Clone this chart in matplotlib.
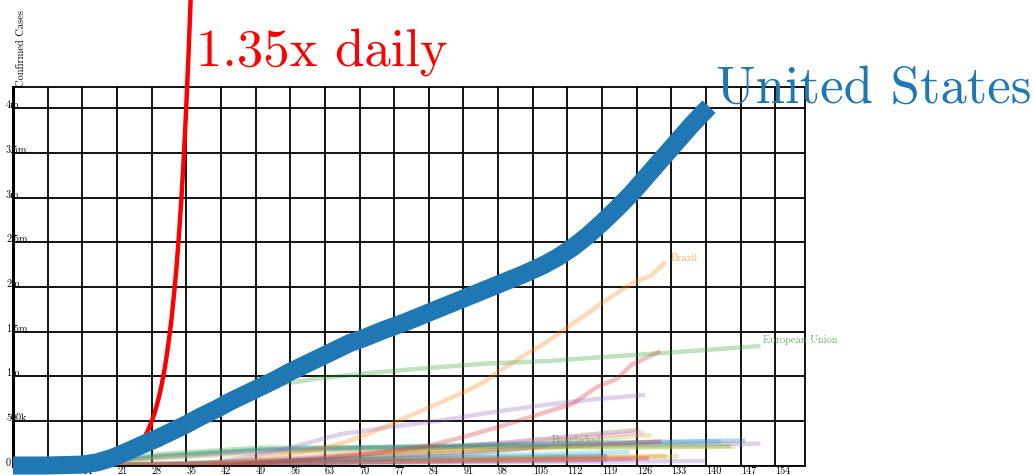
import matplotlib
matplotlib.use('Agg')
import matplotlib.pyplot as plt

plt.rcParams['font.family'] = ['cmr10', 'DejaVu Serif']
plt.rcParams['axes.unicode_minus'] = False
plt.rcParams['mathtext.fontset'] = 'cm'

# ---------------- data (cases in millions, x = days) ----------------
x_ticks = list(range(0, 155, 7))
y_ticks = [0, 0.5, 1, 1.5, 2, 2.5, 3, 3.5, 4]
y_tick_labels = ['0', '500k', '1m', '1.5m', '2m', '2.5m', '3m', '3.5m', '4m']

us_days = [0, 7, 14, 17, 20, 23, 26, 29, 32, 35, 38, 41, 44, 47, 50, 53, 56, 59, 62,
           65, 68, 71, 75, 79, 83, 87, 91, 95, 99, 103, 107, 110, 113, 116, 119,
           122, 125, 128, 131, 134, 137, 140.6]
us_cases = [0.0, 0.0, 0.01, 0.035, 0.085, 0.155, 0.23, 0.30, 0.38, 0.46, 0.55, 0.63,
            0.72, 0.80, 0.88, 0.96, 1.05, 1.13, 1.21, 1.29, 1.37, 1.43, 1.52, 1.60,
            1.69, 1.78, 1.87, 1.96, 2.05, 2.14, 2.24, 2.33, 2.44, 2.57, 2.72, 2.88,
            3.05, 3.24, 3.43, 3.62, 3.81, 4.02]

ref_days = [25.0, 25.5, 26.0, 26.5, 27.0, 27.5, 28.0, 28.5, 29.0, 29.5, 30.0, 30.5,
            31.0, 31.5, 32.0, 32.5, 33.0, 33.5, 34.0, 34.5, 35.0, 35.5, 35.9]
ref_cases = [0.200, 0.232, 0.270, 0.313, 0.364, 0.423, 0.492, 0.571, 0.664, 0.771,
             0.896, 1.04, 1.21, 1.41, 1.63, 1.90, 2.20, 2.56, 2.97, 3.45, 4.01,
             4.66, 5.24]

brazil_days = [20, 30, 40, 50, 56, 61, 66, 72, 77, 82, 87, 91, 95, 98, 102, 105,
               108, 112, 116, 120, 125, 129, 131.8]
brazil_cases = [0.0, 0.01, 0.03, 0.08, 0.13, 0.18, 0.24, 0.36, 0.48, 0.60, 0.72,
                0.82, 0.93, 1.05, 1.19, 1.29, 1.39, 1.55, 1.70, 1.86, 2.04, 2.13, 2.28]

eu_days = [0, 7, 14, 21, 28, 35, 39, 44, 48, 54, 61, 71, 81, 95, 108, 118, 139, 151]
eu_cases = [0.0, 0.005, 0.02, 0.10, 0.27, 0.45, 0.56, 0.64, 0.76, 0.91, 0.97, 1.03,
            1.08, 1.14, 1.17, 1.21, 1.29, 1.34]

red_days = [40, 50, 60, 70, 77, 84, 91, 98, 106, 113, 118, 122, 125, 130.8]
red_cases = [0.0, 0.03, 0.07, 0.12, 0.17, 0.22, 0.32, 0.43, 0.57, 0.69, 0.88, 0.97,
             1.13, 1.28]

purple_days = [30, 40, 48, 56, 66, 76, 86, 96, 106, 117, 127.7]
purple_cases = [0.005, 0.03, 0.10, 0.20, 0.35, 0.43, 0.50, 0.59, 0.67, 0.74, 0.79]

bangladesh_days = [20, 60, 90, 108.2]
bangladesh_cases = [0.0, 0.03, 0.12, 0.22]

brown_days = [35, 70, 100, 126.5]
brown_cases = [0.0, 0.12, 0.26, 0.40]
pink_days = [30, 70, 100, 127.5]
pink_cases = [0.0, 0.13, 0.25, 0.37]
olive_days = [35, 70, 100, 129]
olive_cases = [0.0, 0.10, 0.22, 0.34]
cyan_days = [10, 30, 50, 100, 143]
cyan_cases = [0.0, 0.10, 0.17, 0.23, 0.27]
lightblue_days = [10, 30, 50, 100, 148]
lightblue_cases = [0.0, 0.11, 0.18, 0.24, 0.28]
lavender_days = [10, 30, 50, 100, 151]
lavender_cases = [0.0, 0.09, 0.16, 0.22, 0.245]
red2_days = [40, 80, 110, 131]
red2_cases = [0.0, 0.12, 0.21, 0.27]
green2_days = [10, 30, 50, 100, 145]
green2_cases = [0.0, 0.13, 0.20, 0.21, 0.215]
olive2_days = [10, 30, 50, 100, 146]
olive2_cases = [0.0, 0.08, 0.14, 0.19, 0.21]
cyan2_days = [30, 70, 100, 124.5]
cyan2_cases = [0.0, 0.08, 0.12, 0.15]
olive3_days = [30, 80, 134.5]
olive3_cases = [0.0, 0.05, 0.105]
orange2_days = [20, 60, 100, 132]
orange2_cases = [0.0, 0.04, 0.08, 0.105]
red3_days = [20, 60, 100, 128.5]
red3_cases = [0.0, 0.03, 0.06, 0.08]
brown2_days = [10, 60, 120]
brown2_cases = [0.0, 0.03, 0.06]
pink2_days = [10, 60, 125]
pink2_cases = [0.0, 0.04, 0.07]
purple2_days = [10, 60, 140]
purple2_cases = [0.0, 0.03, 0.05]
orange3_days = [5, 40, 80, 120]
orange3_cases = [0.0, 0.03, 0.06, 0.09]
blue3_days = [15, 50, 90, 120]
blue3_cases = [0.0, 0.05, 0.09, 0.11]

# ---------------- figure ----------------
fig = plt.figure(figsize=(10.33, 4.75), dpi=100)
ax = fig.add_axes([13 / 1033, 0.02, (805 - 13) / 1033, (465.5 - 87) / 475])
ax.set_xlim(0, 160)
ax.set_ylim(0, 4.24)
ax.set_axisbelow(True)

faint = [
    (brown_days, brown_cases, 'C5'), (pink_days, pink_cases, 'C6'),
    (olive_days, olive_cases, 'C8'), (cyan_days, cyan_cases, 'C9'),
    (lightblue_days, lightblue_cases, 'C0'), (lavender_days, lavender_cases, 'C4'),
    (red2_days, red2_cases, 'C3'), (green2_days, green2_cases, 'C2'),
    (olive2_days, olive2_cases, 'C8'), (cyan2_days, cyan2_cases, 'C9'),
    (olive3_days, olive3_cases, 'C8'), (orange2_days, orange2_cases, 'C1'),
    (red3_days, red3_cases, 'C3'), (brown2_days, brown2_cases, 'C5'),
    (pink2_days, pink2_cases, 'C6'), (purple2_days, purple2_cases, 'C4'),
    (orange3_days, orange3_cases, 'C1'), (blue3_days, blue3_cases, 'C0'),
    (bangladesh_days, bangladesh_cases, 'C7'),
    (purple_days, purple_cases, 'C4'), (red_days, red_cases, 'C3'),
    (eu_days, eu_cases, 'C2'), (brazil_days, brazil_cases, 'C1'),
]
for d, c, col in faint:
    ax.plot(d, c, color=col, alpha=0.3, lw=3.2, solid_capstyle='butt',
            solid_joinstyle='round', zorder=2)

ax.plot(ref_days, ref_cases, color='red', lw=3.2, clip_on=False, zorder=3,
        solid_joinstyle='round')
ax.plot(us_days, us_cases, color='#1f77b4', lw=13, solid_capstyle='butt',
        solid_joinstyle='round', clip_on=False, zorder=4)

# labels at line ends
ax.annotate('Brazil', (brazil_days[-1], brazil_cases[-1]), xytext=(4, 3),
            textcoords='offset points', color='C1', alpha=0.65, fontsize=7.5,
            ha='left', va='center')
ax.annotate('European Union', (eu_days[-1], eu_cases[-1]), xytext=(2, 4),
            textcoords='offset points', color='C2', alpha=0.75, fontsize=7.5,
            ha='left', va='center')
ax.annotate('Bangladesh', (bangladesh_days[-1], bangladesh_cases[-1]), xytext=(2, 4),
            textcoords='offset points', color='C7', alpha=0.85, fontsize=7.5,
            ha='left', va='center')
ax.annotate('United States', (us_days[-1], us_cases[-1]), xytext=(5, 3),
            textcoords='offset points', color='#1f77b4', fontsize=38,
            ha='left', va='baseline', annotation_clip=False)
ax.annotate('1.35x daily', (ref_days[-1], ref_cases[-1]), xytext=(4, -48.5),
            textcoords='offset points', color='red', fontsize=38,
            ha='left', va='baseline', annotation_clip=False)

# grid & ticks
ax.set_xticks(x_ticks)
ax.set_xticklabels([str(v) for v in x_ticks])
ax.set_yticks(y_ticks)
ax.set_yticklabels(y_tick_labels)
ax.grid(True, color='black', lw=1.3)
ax.tick_params(axis='x', length=0, pad=0.5, labelsize=7.3)
ax.tick_params(axis='y', length=0, pad=5, labelsize=7.3)
for lab in ax.get_xticklabels():
    lab.set_ha('left')
for lab in ax.get_yticklabels():
    lab.set_ha('left')
    lab.set_va('baseline')
for s in ax.spines.values():
    s.set_color('black')
    s.set_linewidth(1.3)
ax.spines['left'].set_linewidth(2.2)

ax.text(0.004, 1.0, 'Confirmed Cases', transform=ax.transAxes, rotation=90,
        ha='left', va='bottom', fontsize=7.5)

fig.savefig('out.png', dpi=100)
